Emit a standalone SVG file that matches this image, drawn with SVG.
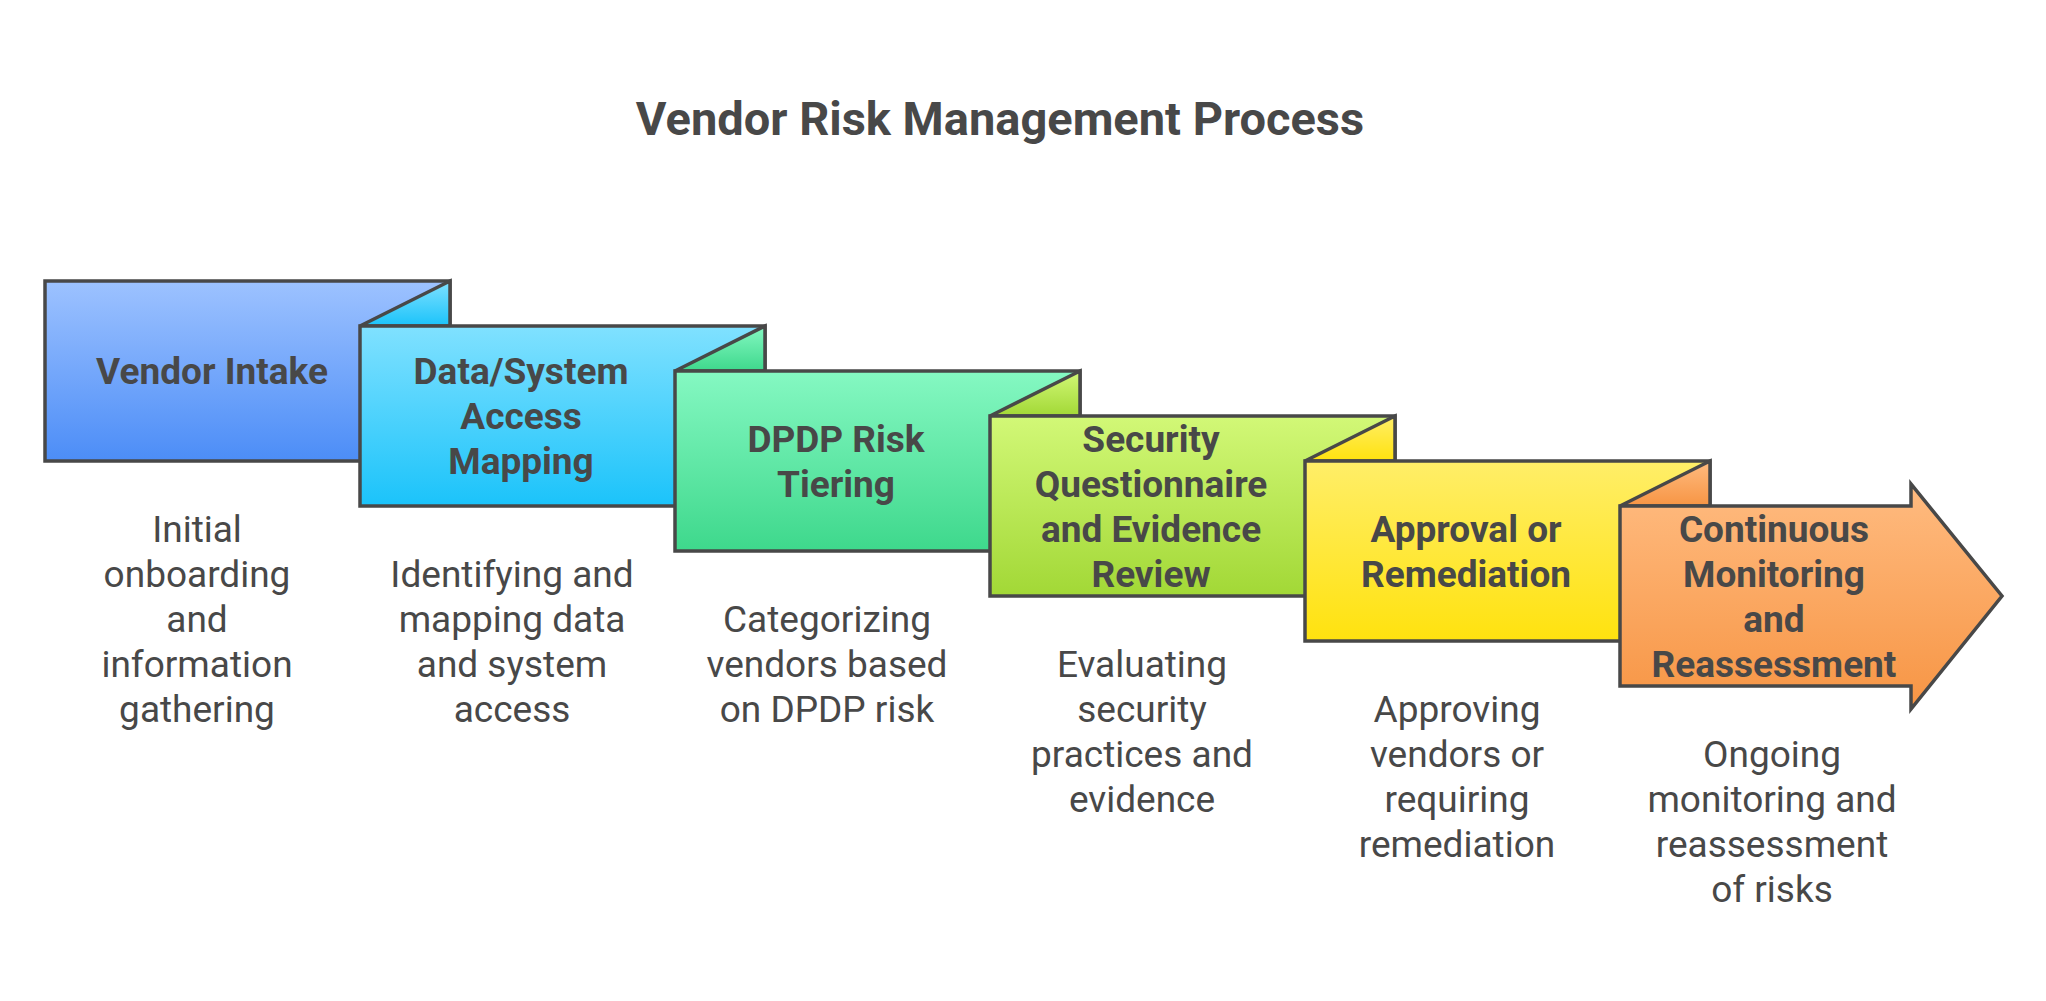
<svg xmlns="http://www.w3.org/2000/svg" width="2046" height="1001" viewBox="0 0 2046 1001">
<defs>
<style>
.title{font-family:Roboto,"Liberation Sans",sans-serif;font-weight:700;font-size:47px;fill:#484848;text-anchor:middle}
.lbl{font-family:Roboto,"Liberation Sans",sans-serif;font-weight:700;font-size:37px;fill:#484848;text-anchor:middle}
.desc{font-family:Roboto,"Liberation Sans",sans-serif;font-weight:400;font-size:37px;fill:#484848;text-anchor:middle}
.shp{stroke:#484848;stroke-width:3.5;stroke-linejoin:miter}
</style>
<linearGradient id="g1" x1="0" y1="0" x2="0" y2="1"><stop offset="0" stop-color="#9DC2FF"/><stop offset="1" stop-color="#4C8DF7"/></linearGradient>
<linearGradient id="g2" x1="0" y1="0" x2="0" y2="1"><stop offset="0" stop-color="#80E1FF"/><stop offset="1" stop-color="#1BC3FA"/></linearGradient>
<linearGradient id="g3" x1="0" y1="0" x2="0" y2="1"><stop offset="0" stop-color="#85F8C2"/><stop offset="1" stop-color="#3ED88C"/></linearGradient>
<linearGradient id="g4" x1="0" y1="0" x2="0" y2="1"><stop offset="0" stop-color="#D2F877"/><stop offset="1" stop-color="#A2D836"/></linearGradient>
<linearGradient id="g5" x1="0" y1="0" x2="0" y2="1"><stop offset="0" stop-color="#FFEE68"/><stop offset="1" stop-color="#FFE20E"/></linearGradient>
<linearGradient id="g6" x1="0" y1="0" x2="0" y2="1"><stop offset="0" stop-color="#FFBB80"/><stop offset="1" stop-color="#F79544"/></linearGradient>
</defs>
<rect width="2046" height="1001" fill="#FFFFFF"/>
<text class="title" x="1000" y="135">Vendor Risk Management Process</text>

<g id="connectors"></g>

<g id="node1">
<rect class="shp" x="45" y="281" width="405" height="180" fill="url(#g1)"/>
<text class="lbl" x="212" y="384">Vendor Intake</text>
<text class="desc" x="197"><tspan x="197" y="542">Initial</tspan><tspan x="197" y="587">onboarding</tspan><tspan x="197" y="632">and</tspan><tspan x="197" y="677">information</tspan><tspan x="197" y="722">gathering</tspan></text>
</g>

<g id="node2">
<polygon class="shp" points="360,326 450,281 450,326" fill="url(#g2)"/>
<rect class="shp" x="360" y="326" width="405" height="180" fill="url(#g2)"/>
<text class="lbl" x="521"><tspan x="521" y="384">Data/System</tspan><tspan x="521" y="429">Access</tspan><tspan x="521" y="474">Mapping</tspan></text>
<text class="desc" x="512"><tspan x="512" y="587">Identifying and</tspan><tspan x="512" y="632">mapping data</tspan><tspan x="512" y="677">and system</tspan><tspan x="512" y="722">access</tspan></text>
</g>

<g id="node3">
<polygon class="shp" points="675,371 765,326 765,371" fill="url(#g3)"/>
<rect class="shp" x="675" y="371" width="405" height="180" fill="url(#g3)"/>
<text class="lbl" x="836"><tspan x="836" y="451.5">DPDP Risk</tspan><tspan x="836" y="496.5">Tiering</tspan></text>
<text class="desc" x="827"><tspan x="827" y="632">Categorizing</tspan><tspan x="827" y="677">vendors based</tspan><tspan x="827" y="722">on DPDP risk</tspan></text>
</g>

<g id="node4">
<polygon class="shp" points="990,416 1080,371 1080,416" fill="url(#g4)"/>
<rect class="shp" x="990" y="416" width="405" height="180" fill="url(#g4)"/>
<text class="lbl" x="1151"><tspan x="1151" y="451.5">Security</tspan><tspan x="1151" y="496.5">Questionnaire</tspan><tspan x="1151" y="541.5">and Evidence</tspan><tspan x="1151" y="586.5">Review</tspan></text>
<text class="desc" x="1142"><tspan x="1142" y="677">Evaluating</tspan><tspan x="1142" y="722">security</tspan><tspan x="1142" y="767">practices and</tspan><tspan x="1142" y="812">evidence</tspan></text>
</g>

<g id="node5">
<polygon class="shp" points="1305,461 1395,416 1395,461" fill="url(#g5)"/>
<rect class="shp" x="1305" y="461" width="405" height="180" fill="url(#g5)"/>
<text class="lbl" x="1466"><tspan x="1466" y="541.5">Approval or</tspan><tspan x="1466" y="586.5">Remediation</tspan></text>
<text class="desc" x="1457"><tspan x="1457" y="722">Approving</tspan><tspan x="1457" y="767">vendors or</tspan><tspan x="1457" y="812">requiring</tspan><tspan x="1457" y="857">remediation</tspan></text>
</g>

<g id="node6">
<polygon class="shp" points="1620,506 1710,461 1710,506" fill="url(#g6)"/>
<polygon class="shp" points="1620,506 1911,506 1911,484 2002,596 1911,709 1911,686 1620,686" fill="url(#g6)"/>
<text class="lbl" x="1774"><tspan x="1774" y="541.5">Continuous</tspan><tspan x="1774" y="586.5">Monitoring</tspan><tspan x="1774" y="631.5">and</tspan><tspan x="1774" y="676.5">Reassessment</tspan></text>
<text class="desc" x="1772"><tspan x="1772" y="767">Ongoing</tspan><tspan x="1772" y="812">monitoring and</tspan><tspan x="1772" y="857">reassessment</tspan><tspan x="1772" y="902">of risks</tspan></text>
</g>
</svg>
